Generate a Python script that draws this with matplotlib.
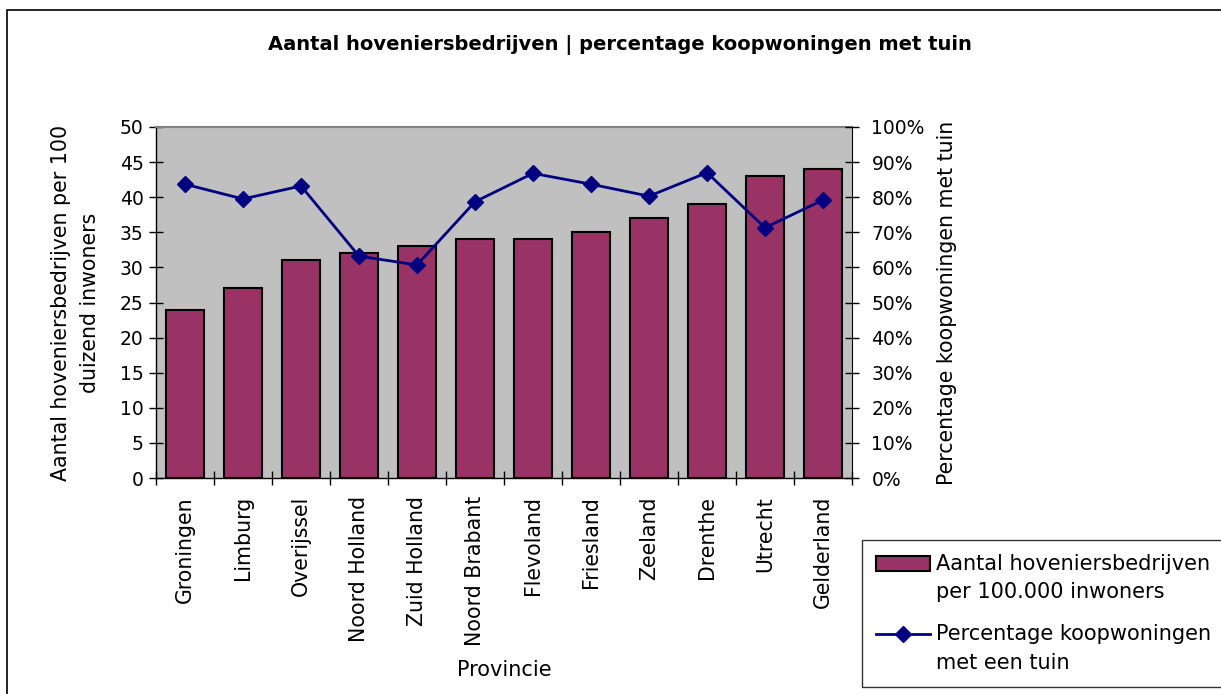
import matplotlib
matplotlib.use("Agg")
import matplotlib.pyplot as plt
from matplotlib.patches import Rectangle, Patch
from matplotlib.lines import Line2D
from matplotlib.legend_handler import HandlerPatch, HandlerLine2D
from matplotlib.ticker import FuncFormatter, MultipleLocator, FixedLocator

provinces = ["Groningen", "Limburg", "Overijssel", "Noord Holland", "Zuid Holland",
             "Noord Brabant", "Flevoland", "Friesland", "Zeeland", "Drenthe",
             "Utrecht", "Gelderland"]
hoveniers = [24, 27, 31, 32, 33, 34, 34, 35, 37, 39, 43, 44]
pct_tuin = [83.7, 79.5, 83.2, 63.2, 60.7, 78.7, 86.8, 83.7, 80.3, 87.0, 71.3, 79.2]

title = "Aantal hoveniersbedrijven | percentage koopwoningen met tuin"
ylabel_left = "Aantal hoveniersbedrijven per 100\nduizend inwoners"
ylabel_right = "Percentage koopwoningen met tuin"
xlabel = "Provincie"
legend_bar = "Aantal hoveniersbedrijven\nper 100.000 inwoners"
legend_line = "Percentage koopwoningen\nmet een tuin"

plt.rcParams['font.family'] = ['DejaVu Sans']
FS_TICK = 13.5
FS_ROT = 14.8
FS_LAB = 15
FS_TITLE = 14

BAR_COLOR = "#993366"
LINE_COLOR = "#000080"

W, H = 1221, 694
fig = plt.figure(figsize=(W / 100, H / 100), dpi=100)
fig.patch.set_facecolor("white")

# outer chart frame
fig.patches.append(Rectangle((7 / W, -0.05), 1.1, 1 - 10 / H + 0.05, transform=fig.transFigure,
                             fill=False, edgecolor="black", linewidth=1.2, zorder=0))

ax = fig.add_axes([156 / W, 1 - 478 / H, (852 - 156) / W, (478 - 127) / H])
ax.set_facecolor("#C0C0C0")
x = list(range(len(provinces)))
bars = ax.bar(x, hoveniers, width=0.67, color=BAR_COLOR, edgecolor="black", linewidth=1.5,
              zorder=2, label=legend_bar)
ax.set_xlim(-0.5, len(provinces) - 0.5)
ax.set_ylim(0, 50)
ax.yaxis.set_major_locator(MultipleLocator(5))
ax.set_xticks(x)
ax.set_xticklabels(provinces, rotation=90, fontsize=FS_ROT)
ax.xaxis.set_minor_locator(FixedLocator([i - 0.5 for i in range(len(provinces) + 1)]))
ax.tick_params(axis="x", which="major", length=0, pad=13)
ax.tick_params(axis="x", which="minor", direction="inout", length=10, width=1)
ax.tick_params(axis="y", direction="inout", length=10, width=1, labelsize=FS_TICK, pad=4)
for s in ["left", "bottom"]:
    ax.spines[s].set_color("black")
    ax.spines[s].set_linewidth(1)
ax.spines["top"].set_color("#808080")
ax.spines["top"].set_linewidth(1.5)
ax.spines["right"].set_visible(False)
ax.set_ylabel(ylabel_left, fontsize=FS_ROT, labelpad=14, linespacing=1.55)
ax.set_xlabel(xlabel, fontsize=FS_LAB, labelpad=10)

ax2 = ax.twinx()
line, = ax2.plot(x, pct_tuin, color=LINE_COLOR, linewidth=2, marker="D", markersize=8,
                 zorder=3, label=legend_line)
ax2.set_ylim(0, 100)
ax2.yaxis.set_major_locator(MultipleLocator(10))
ax2.yaxis.set_major_formatter(FuncFormatter(lambda v, p: f"{v:.0f}%"))
ax2.tick_params(axis="y", direction="inout", length=10, width=1, labelsize=FS_TICK, pad=9)
for s in ["left", "top", "bottom"]:
    ax2.spines[s].set_visible(False)
ax2.spines["right"].set_color("black")
ax2.set_ylabel(ylabel_right, fontsize=FS_ROT, labelpad=9)

fig.text(620 / W, 1 - 45 / H, title, ha="center", va="center", fontsize=FS_TITLE,
         fontweight="bold")


# legend handlers aligned with the first line of a two-line label
DY = 10.8  # points


class TopPatchHandler(HandlerPatch):
    def create_artists(self, *args, **kwargs):
        arts = super().create_artists(*args, **kwargs)
        for a in arts:
            a.set_y(a.get_y() + DY)
        return arts


class TopLineHandler(HandlerLine2D):
    def create_artists(self, *args, **kwargs):
        arts = super().create_artists(*args, **kwargs)
        for a in arts:
            a.set_ydata([y + DY for y in a.get_ydata()])
        return arts


bar_proxy = Patch(facecolor=BAR_COLOR, edgecolor="black", linewidth=1.5)
line_proxy = Line2D([], [], color=LINE_COLOR, linewidth=2, marker="D", markersize=8)

leg = fig.legend([bar_proxy, line_proxy], [legend_bar, legend_line], loc="upper left",
                 bbox_to_anchor=(862 / W, 1 - 540 / H, (1228 - 862) / W, 0.0), mode="expand",
                 fontsize=FS_LAB, frameon=True, fancybox=False, edgecolor="black",
                 handlelength=2.6, handleheight=0.75, handletextpad=0.3, borderpad=0.65,
                 labelspacing=1.05, borderaxespad=0,
                 handler_map={Patch: TopPatchHandler(), Line2D: TopLineHandler()})
leg.get_frame().set_linewidth(1)
for t in leg.get_texts():
    t.set_linespacing(1.55)

fig.savefig("out.png", dpi=100)
